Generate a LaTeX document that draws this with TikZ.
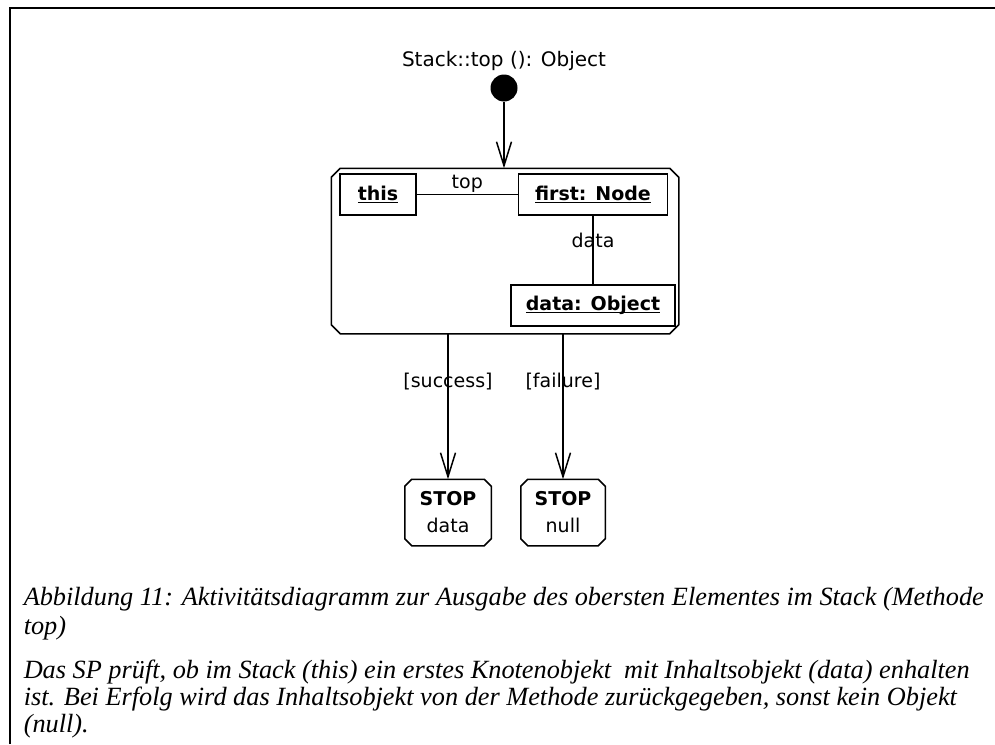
\documentclass[tikz,border=0pt]{standalone}
\usepackage{fontspec}
\setmainfont{Liberation Serif}
\newfontfamily\diagfont{DejaVu Sans}
\usetikzlibrary{arrows.meta}
% bold object name with an underline that ignores descenders
\newcommand\objname[1]{\setbox0\hbox{\bfseries #1}\rlap{\rule[-2.8pt]{\wd0}{1.5pt}}\box0}
% octagonal outline around a node: #1 node name, #2 chamfer size
\newcommand\chamferbox[2]{\draw ([xshift=#2]#1.north west) -- ([xshift=-#2]#1.north east)
  -- ([yshift=-#2]#1.north east) -- ([yshift=#2]#1.south east)
  -- ([xshift=-#2]#1.south east) -- ([xshift=#2]#1.south west)
  -- ([yshift=#2]#1.south west) -- ([yshift=-#2]#1.north west) -- cycle;}
\begin{document}
\begin{tikzpicture}[x=1pt,y=-1pt,line width=1.5pt,
  every node/.style={font=\diagfont\fontsize{19}{23}\selectfont},
  obj/.style={draw,rectangle,inner sep=0pt,minimum height=41pt},
  stopbox/.style={rectangle,inner sep=0pt,minimum height=65pt,align=center,
    font=\diagfont\fontsize{19}{27}\selectfont},
  flow/.style={-{Straight Barb[length=24pt,width=15pt]}},
  caption/.style={font=\fontsize{26.3}{29}\itshape\selectfont,anchor=base west,inner sep=0pt},
]
\useasboundingbox (0,0) rectangle (995,744);
% page frame
\draw (10,744) -- (10,8) -- (995,8);

% initial state
\node[anchor=base,font=\diagfont\fontsize{20}{24}\selectfont] (title) at (504,66) {Stack::top (): Object};
\node[circle,fill,inner sep=0pt,minimum size=27pt] (start) at (504,88) {};

% activity with its object structure
\node[rectangle,inner sep=0pt,minimum width=346pt,minimum height=164pt] (act) at (505,251) {};
\chamferbox{act}{9pt}
\node[obj,minimum width=76pt] (this) at (378,194.5) {\objname{this}};
\node[obj,minimum width=149pt] (first) at (593,194.5) {\objname{first: Node}};
\node[obj,minimum width=164pt] (data) at (593,305.5) {\objname{data: Object}};
\draw (this) -- node[above,inner sep=1pt] {top} (first);
\draw (first) -- node[pos=0.36] {data} (data);

% final states
\node[stopbox,minimum width=85pt] (stopA) at (448,512.5) {\textbf{STOP}\\data};
\chamferbox{stopA}{7pt}
\node[stopbox,minimum width=83pt] (stopB) at (563,512.5) {\textbf{STOP}\\null};
\chamferbox{stopB}{7pt}

% transitions
\draw[flow] (start) -- (start |- act.north);
\draw[flow] (act.south -| stopA) -- node[pos=0.33] {[success]} (stopA);
\draw[flow] (act.south -| stopB) -- node[pos=0.33] {[failure]} (stopB);

% caption and description
\node[caption] (cap1) at (23,605) {Abbildung 11: Aktivitätsdiagramm zur Ausgabe des obersten Elementes im Stack (Methode};
\node[caption] (cap2) at (23,634) {top)};
\node[caption] (txt1) at (23,678) {Das SP prüft, ob im Stack (this) ein erstes Knotenobjekt\ \ mit Inhaltsobjekt (data) enhalten};
\node[caption] (txt2) at (23,705) {ist. Bei Erfolg wird das Inhaltsobjekt von der Methode zurückgegeben, sonst kein Objekt};
\node[caption] (txt3) at (23,732) {(null).};
\end{tikzpicture}
\end{document}
